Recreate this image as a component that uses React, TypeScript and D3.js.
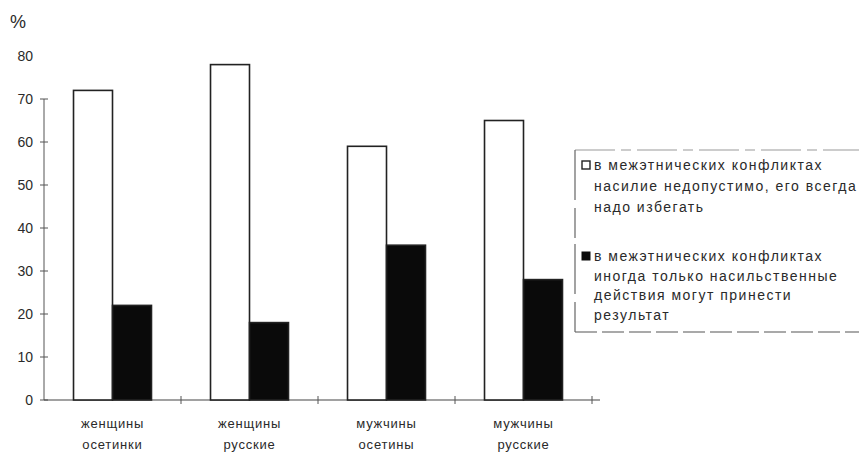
import React from "react";
import * as d3 from "d3";

const categories = ["женщины осетинки", "женщины русские", "мужчины осетины", "мужчины русские"];
const categoryLines = [["женщины", "осетинки"], ["женщины", "русские"], ["мужчины", "осетины"], ["мужчины", "русские"]];
const seriesKeys = ["avoid", "force"];
const avoidValues = [72, 78, 59, 65];
const forceValues = [22, 18, 36, 28];
const yTicks = [0, 10, 20, 30, 40, 50, 60, 70, 80];
const legendAvoid = ["в межэтнических конфликтах", "насилие недопустимо, его всегда", "надо избегать"];
const legendForce = ["в межэтнических конфликтах", "иногда только насильственные", "действия могут принести", "результат"];

const W = 859;
const H = 457;
const FONT = "'Liberation Sans', Arial, sans-serif";
const INK = "#2a2a2a";

export default function App() {
  const x = d3.scaleBand<string>().domain(categories).range([44, 592]).padding(0);
  const xs = d3.scaleBand<string>().domain(seriesKeys).range([0, x.bandwidth()]).paddingInner(0).paddingOuter(0.757);
  const y = d3.scaleLinear().domain([0, 80]).range([400, 56]);
  const seriesVals: Record<string, number[]> = { avoid: avoidValues, force: forceValues };
  const fills: Record<string, string> = { avoid: "#ffffff", force: "#0a0a0a" };

  const boundaries = categories.map((c) => (x(c) as number) + x.bandwidth());

  return (
    <svg width={W} height={H} style={{ position: "absolute", left: 0, top: 0, background: "#fff" }} fontFamily={FONT}>
      <rect x={0} y={0} width={W} height={H} fill="#fff" />
      {/* % label */}
      <text x={10} y={28} fontSize={18} fill={INK}>%</text>
      {/* y axis */}
      <line x1={44} x2={44} y1={y(0)} y2={y(70)} stroke="#555" strokeWidth={1} />
      {yTicks.map((t) => (
        <g key={t}>
          <text x={33} y={y(t) + 5} fontSize={14} textAnchor="end" fill={INK}>{t}</text>
          {t < 80 && <line x1={40} x2={48} y1={y(t)} y2={y(t)} stroke="#555" strokeWidth={1} />}
        </g>
      ))}
      {/* x axis */}
      <line x1={44} x2={600} y1={y(0)} y2={y(0)} stroke="#444" strokeWidth={1.2} />
      {boundaries.map((b, i) => (
        <line key={i} x1={b} x2={b} y1={y(0) - 4} y2={y(0) + 4} stroke="#555" strokeWidth={1} />
      ))}
      {/* bars */}
      {categories.map((c, i) => (
        <g key={c}>
          {seriesKeys.map((k) => {
            const v = seriesVals[k][i];
            const bx = (x(c) as number) + (xs(k) as number);
            return (
              <rect
                key={k}
                x={bx}
                y={y(v)}
                width={xs.bandwidth()}
                height={y(0) - y(v)}
                fill={fills[k]}
                stroke="#222"
                strokeWidth={1.6}
              />
            );
          })}
          {categoryLines[i].map((ln, j) => (
            <text
              key={j}
              x={(x(c) as number) + x.bandwidth() / 2}
              y={428 + j * 21}
              fontSize={13}
              letterSpacing={0.8}
              textAnchor="middle"
              fill={INK}
            >
              {ln}
            </text>
          ))}
        </g>
      ))}
      {/* legend */}
      <g>
        <line x1={575} x2={870} y1={150} y2={150} stroke="#999" strokeWidth={1} strokeDasharray="40 6 10 6" />
        <line x1={575} x2={870} y1={332} y2={332} stroke="#555" strokeWidth={1.2} strokeDasharray="22 5" />
        <line x1={575} x2={575} y1={150} y2={332} stroke="#666" strokeWidth={1.2} strokeDasharray="50 8 30 6" />
        <rect x={582} y={161} width={8} height={8} fill="#fff" stroke="#222" strokeWidth={1.4} />
        {legendAvoid.map((ln, j) => (
          <text key={j} x={594} y={170 + j * 21} fontSize={14} letterSpacing={1.5} fill={INK}>{ln}</text>
        ))}
        <rect x={582} y={252} width={8} height={8} fill="#0a0a0a" stroke="#0a0a0a" strokeWidth={1} />
        {legendForce.map((ln, j) => (
          <text key={j} x={594} y={261 + j * 19.5} fontSize={14} letterSpacing={1.5} fill={INK}>{ln}</text>
        ))}
      </g>
    </svg>
  );
}
